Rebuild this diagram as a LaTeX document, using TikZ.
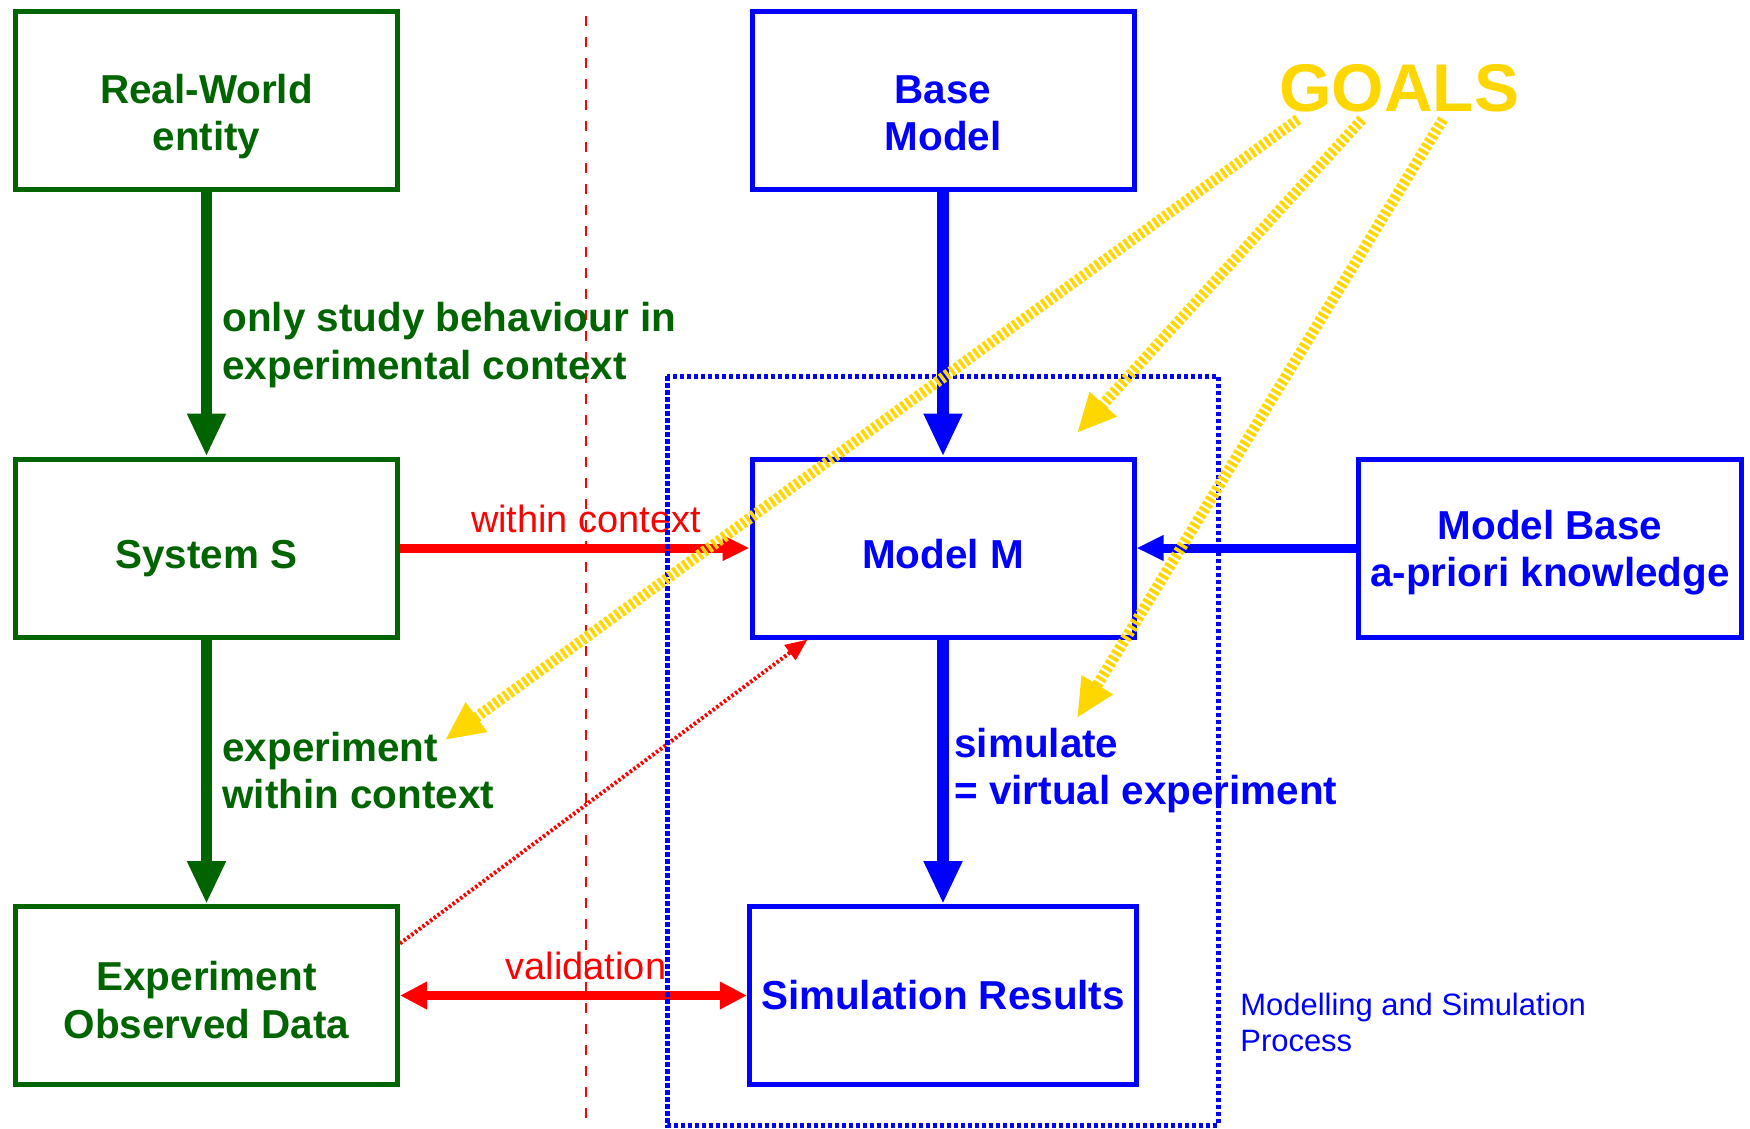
\documentclass[tikz,border=0pt]{standalone}
\usepackage{fontspec}
\setmainfont{Liberation Sans}
\usetikzlibrary{arrows.meta}

\definecolor{envgreen}{RGB}{0,100,0}
\definecolor{modblue}{RGB}{0,0,255}
\definecolor{valred}{RGB}{255,0,0}
\definecolor{goalgold}{RGB}{255,215,0}

\begin{document}
\begin{tikzpicture}[
    box/.style={draw, line width=0.5mm, minimum width=3.82cm, minimum height=1.78cm,
        align=center, font=\fontsize{11.5}{13.4}\selectfont\bfseries},
    realbox/.style={box, envgreen},
    modbox/.style={box, modblue},
    bigarrow/.style={line width=1.15mm, -{Triangle[length=4.3mm, width=3.6mm]}},
    flatarrow/.style={line width=0.9mm, -{Triangle[length=2.7mm, width=2.4mm]}},
    goalarrow/.style={goalgold, line width=1.1mm, dash pattern=on 0.35mm off 0.25mm,
        -{Triangle[length=3.9mm, width=3.4mm]}},
    lbl/.style={align=left, anchor=west, font=\fontsize{11.5}{13.4}\selectfont\bfseries},
    redlbl/.style={valred, font=\fontsize{10.8}{13}\selectfont}
]
    \useasboundingbox (0,0) rectangle (17.5,-11.28);

    % context border
    \draw[valred, line width=0.15mm, dash pattern=on 1mm off 1.1mm] (5.86,-0.16) -- (5.86,-11.28);

    % Real world side
    \node[realbox] (rw) at (2.065,-1.005) {\rule{0pt}{1.5em}Real-World\\entity};
    \node[realbox] (sys) at (2.065,-5.48) {\rule{0pt}{1.23em}System S};
    \node[realbox] (exp) at (2.065,-9.955) {\rule{0pt}{0.95em}Experiment\\Observed Data};

    % Model side
    \node[modbox] (base) at (9.43,-1.005) {\rule{0pt}{1.34em}Base\\Model};
    \node[modbox] (mm) at (9.43,-5.48) {\rule{0pt}{1em}Model M};
    \node[modbox] (simres) at (9.43,-9.955) {Simulation Results};
    \node[modbox] (mbase) at (15.50,-5.48) {\rule{0pt}{0.95em}Model Base\\a-priori knowledge};

    % Labels
    \node[lbl, envgreen] (study) at (2.10,-3.45) {only study behaviour in\\experimental context};
    \node[lbl, envgreen] (expctx) at (2.10,-7.705) {experiment\\within context};
    \node[lbl, modblue] (simlbl) at (9.42,-7.705) {simulate\\= virtual experiment};
    \node[modblue, align=left, anchor=west, font=\fontsize{8.8}{10.2}\selectfont] (mslbl)
        at (12.28,-10.22) {Modelling and Simulation\\Process};
    \node[redlbl] (ctxlbl) at (5.86,-5.19) {within context};
    \node[redlbl] (vallbl) at (5.86,-9.66) {validation};

    % Arrows
    \draw[bigarrow, envgreen] (rw) -- (sys);
    \draw[bigarrow, envgreen] (sys) -- (exp);
    \draw[bigarrow, modblue] (base) -- (mm);
    \draw[bigarrow, modblue] (mm) -- (simres);
    \draw[flatarrow, modblue] (mbase) -- (mm);
    \draw[flatarrow, valred] (sys) -- (mm);
    \draw[flatarrow, valred, {Triangle[length=2.7mm, width=2.6mm]}-{Triangle[length=2.7mm, width=2.6mm]}] (exp) -- (simres);
    \draw[valred, line width=0.4mm, dash pattern=on 0.25mm off 0.22mm, -{Triangle[length=2.2mm, width=1.8mm]}]
        ([yshift=5.2mm]exp.east) -- ([xshift=5.8mm]mm.south west);

    % Modelling and simulation process
    \draw[modblue, line width=0.5mm, dash pattern=on 0.45mm off 0.25mm] (6.67,-3.76) rectangle (12.18,-11.25);

    % Goals
    \node[goalgold, font=\fontsize{19.2}{23}\selectfont\bfseries] (goals) at (13.99,-0.88) {GOALS};
    \coordinate (g1) at (4.45,-7.40);
    \coordinate (g2) at (10.77,-4.33);
    \coordinate (g3) at (10.77,-7.18);
    \draw[goalarrow] ([xshift=-10.1mm, yshift=0.5mm]goals.south) -- (g1);
    \draw[goalarrow] ([xshift=-3.7mm, yshift=0.5mm]goals.south) -- (g2);
    \draw[goalarrow] ([xshift=4.4mm, yshift=0.5mm]goals.south) -- (g3);
\end{tikzpicture}
\end{document}
